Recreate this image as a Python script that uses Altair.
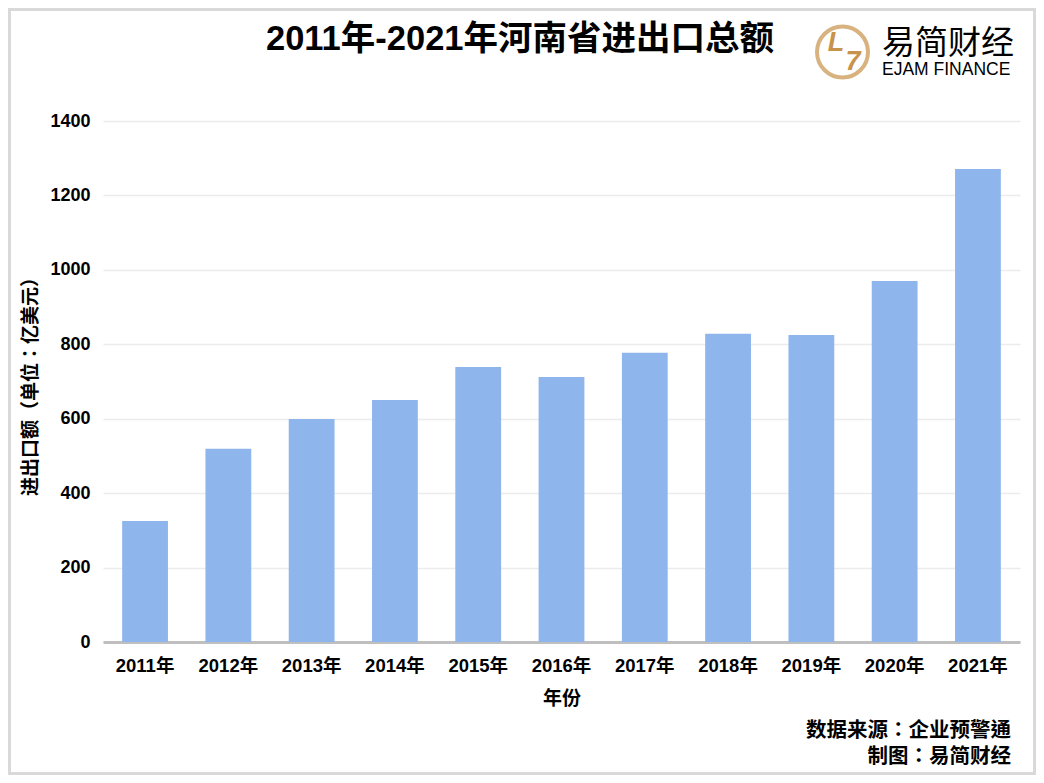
import altair as alt
import pandas as pd

FONT = "Liberation Sans, Arial, Noto Sans CJK SC"
FONT_TC = "Liberation Sans, Arial, Noto Sans CJK TC"

years = ["2011年", "2012年", "2013年", "2014年", "2015年", "2016年",
         "2017年", "2018年", "2019年", "2020年", "2021年"]
values = [325, 519, 599, 650, 739, 712, 777, 828, 825, 970, 1271]
y_ticks = [0, 200, 400, 600, 800, 1000, 1200, 1400]

title_text = "2011年-2021年河南省进出口总额"
x_title = "年份"
y_title = "进出口额（单位：亿美元）"
source_text = "数据来源：企业预警通"
maker_text = "制图：易简财经"
logo_cn = "易简财经"
logo_en = "EJAM FINANCE"

BAR = "#8fb6ec"
GOLD = "#c8934a"

df = pd.DataFrame({"year": years, "value": values})
one = pd.DataFrame({"k": [0]})

bars = alt.Chart(df).mark_bar(color=BAR).encode(
    x=alt.X("year:N", sort=years, title=x_title,
            scale=alt.Scale(paddingInner=0.45, paddingOuter=0.23),
            axis=alt.Axis(labelAngle=0, ticks=False, domainColor="#bfbfbf",
                          domainWidth=3, labelPadding=14, titlePadding=15,
                          labelFontSize=18.5)),
    y=alt.Y("value:Q", title=y_title,
            scale=alt.Scale(domain=[0, 1400], nice=False),
            axis=alt.Axis(values=y_ticks, ticks=False, domain=False, format="d",
                          gridColor="#ececec", gridWidth=1.5,
                          labelPadding=13, titlePadding=9, titleFont=FONT_TC)),
)

def txt(s, x, y, size, color="#000000", weight="bold", align="center",
        style="normal", font=FONT):
    return alt.Chart(one).mark_text(
        text=s, font=font, fontSize=size, fontWeight=weight, color=color,
        align=align, baseline="middle", fontStyle=style,
    ).encode(x=alt.value(x), y=alt.value(y))

title = txt(title_text, 417, -81, 34.5)
src = txt(source_text, 908, 610, 20.5, align="right", font=FONT_TC)
mk = txt(maker_text, 908, 636, 20.5, align="right", font=FONT_TC)
lcn = txt(logo_cn, 779, -77, 33, weight="normal", align="left")
len_ = txt(logo_en, 779, -51, 17.5, weight="normal", align="left")
l_glyph = txt("L", 733, -78, 27, color=GOLD, style="italic")
s_glyph = txt("7", 750, -59, 27, color=GOLD, style="italic")

ring = alt.Chart(one).mark_point(
    shape="circle", filled=False, stroke=GOLD, strokeWidth=4, size=2600
).encode(x=alt.value(739.5), y=alt.value(-69))

border = alt.Chart(one).mark_rect(
    fill=None, fillOpacity=0, stroke="#d9d9d9", strokeWidth=3
).encode(x=alt.value(-93.5), x2=alt.value(931.5),
         y=alt.value(-111.5), y2=alt.value(652.5))

chart = alt.layer(
    bars, title, src, mk, ring, l_glyph, s_glyph, lcn, len_, border
).properties(
    width=917, height=521,
    autosize=alt.AutoSizeParams(type="none"),
    padding={"left": 95, "top": 113, "right": 16, "bottom": 133},
    background="white",
).configure_view(strokeWidth=0).configure_axis(
    labelFont=FONT, titleFont=FONT, labelFontSize=18, titleFontSize=19,
    labelFontWeight="bold", titleFontWeight="bold",
    labelColor="#000000", titleColor="#000000",
)

chart.save("out.html", embed_options={"renderer": "svg", "actions": False})
